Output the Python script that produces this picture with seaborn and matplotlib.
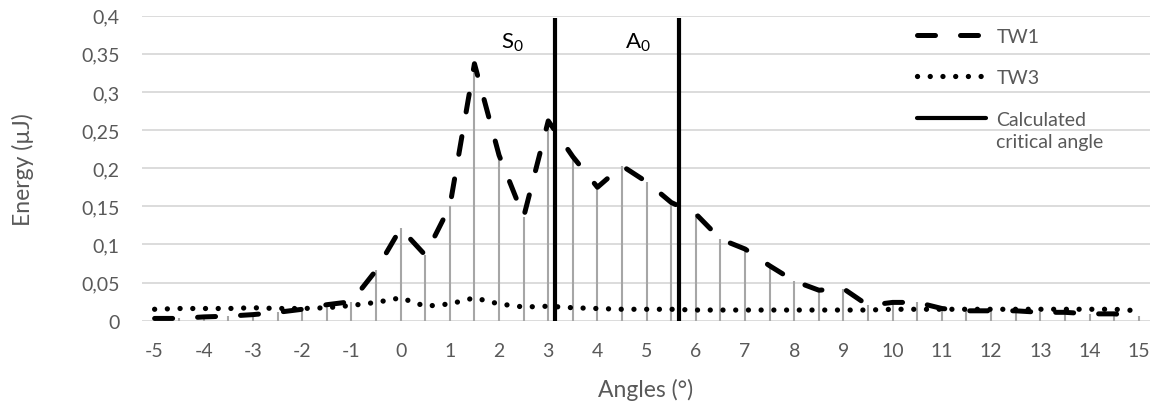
import numpy as np
import pandas as pd
import matplotlib
matplotlib.use("Agg")
import matplotlib.pyplot as plt
from matplotlib.lines import Line2D
from matplotlib.ticker import FuncFormatter
import seaborn as sns

# data
angles = [-5, -4.5, -4, -3.5, -3, -2.5, -2, -1.5, -1, -0.5,
          0, 0.5, 1, 1.5, 2, 2.5, 3, 3.5, 4, 4.5,
          5, 5.5, 6, 6.5, 7, 7.5, 8, 8.5, 9, 9.5,
          10, 10.5, 11, 11.5, 12, 12.5, 13, 13.5, 14, 14.5, 15]
tw1 = [0.003, 0.003, 0.005, 0.006, 0.008, 0.011, 0.015, 0.021, 0.025, 0.066,
       0.121, 0.086, 0.150, 0.337, 0.217, 0.136, 0.262, 0.215, 0.175, 0.203,
       0.182, 0.155, 0.140, 0.107, 0.094, 0.072, 0.052, 0.040, 0.042, 0.020,
       0.024, 0.024, 0.016, 0.013, 0.013, 0.013, 0.011, 0.011, 0.009, 0.009, 0.006]
tw3 = [0.015, 0.016, 0.016, 0.016, 0.017, 0.016, 0.016, 0.017, 0.020, 0.024,
       0.030, 0.019, 0.022, 0.030, 0.022, 0.018, 0.019, 0.017, 0.016, 0.015,
       0.015, 0.015, 0.014, 0.014, 0.014, 0.014, 0.014, 0.014, 0.014, 0.014,
       0.015, 0.015, 0.015, 0.015, 0.015, 0.015, 0.015, 0.015, 0.015, 0.015, 0.013]
critical_angles = [3.13, 5.65]
mode_labels = ["S$_0$", "A$_0$"]
mode_label_x = [2.28, 4.82]
x_ticks = list(range(-5, 16))
y_ticks = [0, 0.05, 0.1, 0.15, 0.2, 0.25, 0.3, 0.35, 0.4]

df = pd.DataFrame({"Angle": angles, "TW1": tw1, "TW3": tw3})

sns.set_style("white")
plt.rcParams["font.family"] = ["Lato", "DejaVu Sans"]
plt.rcParams["mathtext.default"] = "regular"
plt.rcParams["axes.unicode_minus"] = False
text_gray = "#595959"

dash_tw1 = (0, (3.6, 5.0))
dot_tw3 = (0, (0.01, 2.4))

fig = plt.figure(figsize=(11.53, 4.06), dpi=100)
ax = fig.add_axes([0.123, 0.2076, 0.874, 0.7514])

# grid lines
for v in y_ticks:
    ax.axhline(v, color="#D9D9D9", linewidth=1.3, zorder=0)

# drop lines from TW1 to the axis
ax.vlines(df["Angle"], 0, df["TW1"], color="#A6A6A6", linewidth=1.5, zorder=1)

sns.lineplot(data=df, x="Angle", y="TW3", ax=ax, color="black", linewidth=3.8,
             linestyle=dot_tw3, dash_capstyle="round", errorbar=None, zorder=2)
sns.lineplot(data=df, x="Angle", y="TW1", ax=ax, color="black", linewidth=3.6,
             linestyle=dash_tw1, dash_capstyle="round", errorbar=None, zorder=3)

# calculated critical angles
ax.vlines(critical_angles, 0, 0.397, color="black", linewidth=3, zorder=4)
for lab, xpos in zip(mode_labels, mode_label_x):
    ax.text(xpos, 0.366, lab, ha="center", va="center", fontsize=16, color="black")

ax.set_xlim(-5.26, 15.22)
ax.set_ylim(0, 0.4)
ax.set_xticks(x_ticks)
ax.set_yticks(y_ticks)
ax.yaxis.set_major_formatter(FuncFormatter(lambda v, p: f"{v:g}".replace(".", ",")))
ax.tick_params(axis="both", length=0, labelsize=14, colors=text_gray)
ax.tick_params(axis="x", pad=15)
ax.tick_params(axis="y", pad=16)
for s in ax.spines.values():
    s.set_visible(False)

ax.set_xlabel("Angles (°)", fontsize=16.5, color=text_gray, labelpad=14)
ax.set_ylabel("Energy (µJ)", fontsize=16.5, color=text_gray, labelpad=34)

handles = [
    Line2D([], [], color="black", linewidth=3.6, linestyle=dash_tw1, dash_capstyle="round"),
    Line2D([], [], color="black", linewidth=3.8, linestyle=dot_tw3, dash_capstyle="round"),
    Line2D([], [], color="black", linewidth=3),
]
leg = ax.legend(handles, ["TW1", "TW3", "Calculated"], loc="upper left",
                bbox_to_anchor=(907 / 1153, 1 - 19 / 406), bbox_transform=fig.transFigure,
                frameon=False, fontsize=14, handlelength=3.55, borderpad=0,
                labelspacing=1.26, handletextpad=0.55)
for t in leg.get_texts():
    t.set_color(text_gray)

# second line of the last legend label
fig.canvas.draw()
bb = leg.get_texts()[2].get_window_extent()
x0, y0 = fig.transFigure.inverted().transform((bb.x0, bb.y0))
fig.text(x0, y0 - 5 / 406, "critical angle", ha="left", va="top", fontsize=14, color=text_gray)

plt.savefig("out.png", dpi=100)
